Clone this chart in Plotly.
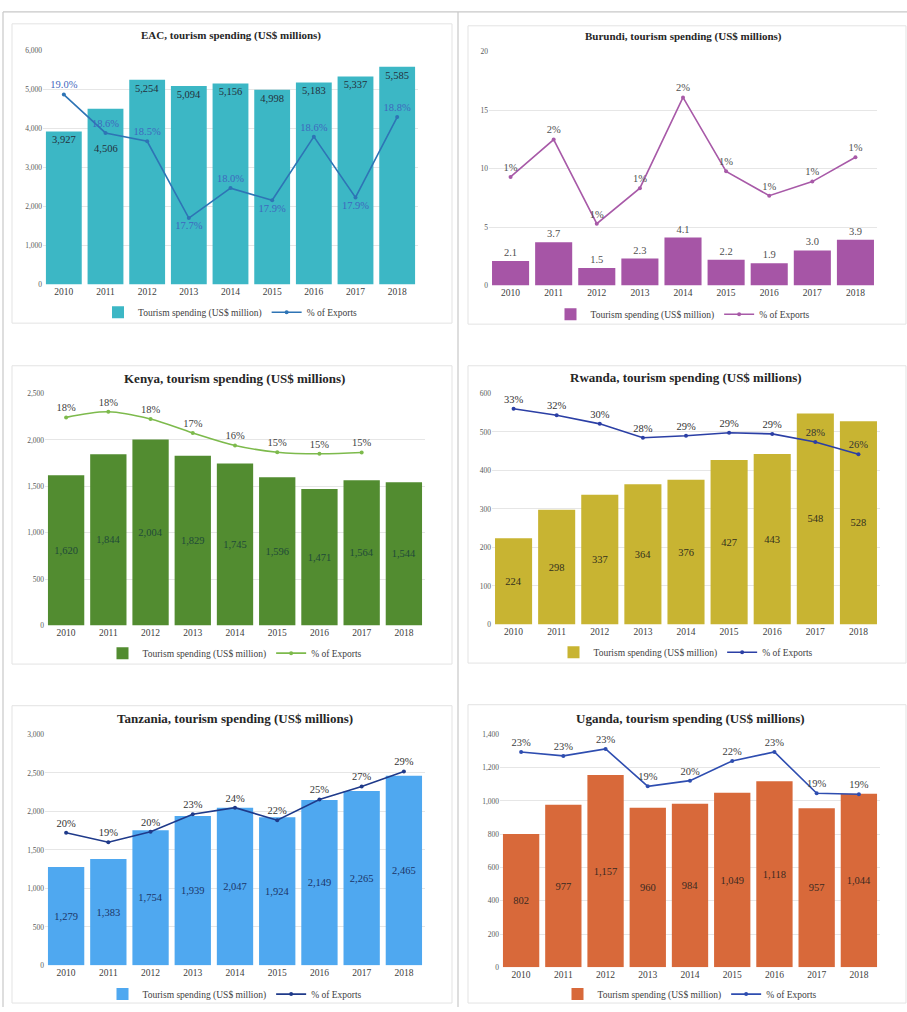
import plotly.graph_objects as go

W, H = 907, 1012
FONT = "Liberation Serif"

years = ["2010", "2011", "2012", "2013", "2014", "2015", "2016", "2017", "2018"]

eac_spend = [3927, 4506, 5254, 5094, 5156, 4998, 5183, 5337, 5585]
eac_pct = [0.1903, 0.1862, 0.1853, 0.1771, 0.1803, 0.1790, 0.1858, 0.1793, 0.1879]

burundi_spend = [2.1, 3.7, 1.5, 2.3, 4.1, 2.2, 1.9, 3.0, 3.9]
burundi_pct = [0.0116, 0.0156, 0.0066, 0.0104, 0.0201, 0.0122, 0.0096, 0.0111, 0.0137]

kenya_spend = [1620, 1844, 2004, 1829, 1745, 1596, 1471, 1564, 1544]
kenya_pct = [0.1794, 0.1843, 0.1780, 0.1660, 0.1552, 0.1494, 0.1480, 0.1491, None]

rwanda_spend = [224, 298, 337, 364, 376, 427, 443, 548, 528]
rwanda_pct = [0.327, 0.317, 0.304, 0.283, 0.286, 0.2905, 0.2888, 0.2765, 0.258]

tanzania_spend = [1279, 1383, 1754, 1939, 2047, 1924, 2149, 2265, 2465]
tanzania_pct = [0.201, 0.1866, 0.2025, 0.229, 0.239, 0.220, 0.2515, 0.271, 0.294]

uganda_spend = [802, 977, 1157, 960, 984, 1049, 1118, 957, 1044]
uganda_pct = [0.2312, 0.2270, 0.2345, 0.1943, 0.2004, 0.2216, 0.2312, 0.1868, 0.1858]

bar_name = "Tourism spending (US$ million)"
line_name = "% of Exports"

# EAC bar labels sit just inside the bar top, except 2011 which is dropped
# lower so it clears the percentage label of the line.
eac_bar_fmt = ["%{y:,}", "", "%{y:,}", "%{y:,}", "%{y:,}", "%{y:,}",
               "%{y:,}", "%{y:,}", "%{y:,}"]
eac_moved_idx = 1
eac_moved_frac = 0.775

# Per-panel layout in pixels: plot box (x0, x1, top, bottom), title/legend rows,
# the surrounding frame, and axis ranges.
panels = [
    dict(title="EAC, tourism spending (US$ millions)", title_size=11,
         spend=eac_spend, pct=eac_pct,
         bar_color="#3CB7C5", line_color="#2E74B5",
         bar_text_color="#24303C", line_text_color="#3F68BE",
         plot=(43, 418, 47, 283), title_y=32, legend_y=311,
         frame=(12, 20, 452, 322),
         y_range=[0, 6000], dtick=1000, y2_range=[0.170, 0.195],
         bar_fmt=eac_bar_fmt, line_fmt="%{y:.1%}",
         bar_pos="inside", bar_anchor="end",
         line_pos=["top center", "top center", "top center", "bottom center",
                   "top center", "bottom center", "top center", "bottom center",
                   "top center"],
         spline=False),
    dict(title="Burundi, tourism spending (US$ millions)", title_size=11,
         spend=burundi_spend, pct=burundi_pct,
         bar_color="#A655A6", line_color="#A85AA8",
         bar_text_color="#505050", line_text_color="#505050",
         plot=(489, 877, 48, 284), title_y=33, legend_y=313,
         frame=(468, 22, 906, 323),
         y_range=[0, 20], dtick=5, y2_range=[0, 0.025],
         bar_fmt="%{y:.1f}", line_fmt="%{y:.0%}",
         bar_pos="outside", bar_anchor="end",
         line_pos="top center", spline=False),
    dict(title="Kenya, tourism spending (US$ millions)", title_size=13,
         spend=kenya_spend, pct=kenya_pct,
         bar_color="#528C30", line_color="#7DBA4C",
         bar_text_color="#1F4A38", line_text_color="#404040",
         plot=(45, 425, 393, 627), title_y=378, legend_y=655,
         frame=(12, 365, 452, 666),
         y_range=[0, 2500], dtick=500, y2_range=[0, 0.20],
         bar_fmt="%{y:,}", line_fmt="%{y:.0%}",
         bar_pos="inside", bar_anchor="middle",
         line_pos="top center", spline=True),
    dict(title="Rwanda, tourism spending (US$ millions)", title_size=13,
         spend=rwanda_spend, pct=rwanda_pct,
         bar_color="#C8B432", line_color="#2B3FA5",
         bar_text_color="#33301E", line_text_color="#333333",
         plot=(492, 880, 393, 626), title_y=377, legend_y=654,
         frame=(468, 365, 906, 665),
         y_range=[0, 600], dtick=100, y2_range=[0, 0.35],
         bar_fmt="%{y:,}", line_fmt="%{y:.0%}",
         bar_pos="inside", bar_anchor="middle",
         line_pos="top center", spline=False),
    dict(title="Tanzania, tourism spending (US$ millions)", title_size=13,
         spend=tanzania_spend, pct=tanzania_pct,
         bar_color="#4FA8F0", line_color="#1F3A8A",
         bar_text_color="#1C3568", line_text_color="#333333",
         plot=(45, 425, 737, 970), title_y=721, legend_y=999,
         frame=(12, 708, 452, 1008),
         y_range=[0, 3000], dtick=500, y2_range=[0, 0.35],
         bar_fmt="%{y:,}", line_fmt="%{y:.0%}",
         bar_pos="inside", bar_anchor="middle",
         line_pos="top center", spline=False),
    dict(title="Uganda, tourism spending (US$ millions)", title_size=13,
         spend=uganda_spend, pct=uganda_pct,
         bar_color="#D8693A", line_color="#2E4DB0",
         bar_text_color="#3A2A22", line_text_color="#404040",
         plot=(500, 880, 737, 972), title_y=721, legend_y=999,
         frame=(468, 707, 906, 1008),
         y_range=[0, 1400], dtick=200, y2_range=[0, 0.25],
         bar_fmt="%{y:,}", line_fmt="%{y:.0%}",
         bar_pos="inside", bar_anchor="middle",
         line_pos="top center", spline=False),
]


def px_x(v):
    return v / W


def px_y(v):
    return 1 - v / H


fig = go.Figure()
layout = dict(
    width=W, height=H,
    margin=dict(l=0, r=0, t=0, b=0),
    paper_bgcolor="white", plot_bgcolor="white",
    font=dict(family=FONT, color="#404040"),
    bargap=0.14,
    showlegend=True,
)
annotations = []
shapes = []

for i, p in enumerate(panels, start=1):
    xa = f"x{i}" if i > 1 else "x"
    ya = f"y{i}" if i > 1 else "y"
    y2n = i + 6
    ya2 = f"y{y2n}"
    leg = f"legend{i}" if i > 1 else "legend"
    x0, x1, top, bottom = p["plot"]

    fig.add_trace(go.Bar(
        x=years, y=p["spend"], name=bar_name,
        marker=dict(color=p["bar_color"], line=dict(width=0)),
        texttemplate=p["bar_fmt"], textposition=p["bar_pos"],
        insidetextanchor=p["bar_anchor"], constraintext="none",
        textfont=dict(family=FONT, size=10.5, color=p["bar_text_color"]),
        outsidetextfont=dict(family=FONT, size=10.5, color=p["bar_text_color"]),
        cliponaxis=False,
        xaxis=xa, yaxis=ya, legend=leg,
    ))
    fig.add_trace(go.Scatter(
        x=years, y=p["pct"], name=line_name,
        mode="lines+markers+text",
        line=dict(color=p["line_color"], width=1.6,
                  shape="spline" if p["spline"] else "linear"),
        marker=dict(color=p["line_color"], size=4),
        texttemplate=p["line_fmt"], textposition=p["line_pos"],
        textfont=dict(family=FONT, size=10.5, color=p["line_text_color"]),
        cliponaxis=False, connectgaps=False,
        xaxis=xa, yaxis=ya2, legend=leg,
    ))

    xkey = "xaxis" if i == 1 else f"xaxis{i}"
    ykey = "yaxis" if i == 1 else f"yaxis{i}"
    layout[xkey] = dict(
        domain=[px_x(x0), px_x(x1)], anchor=ya, type="category",
        categoryorder="array", categoryarray=years,
        range=[-0.5, len(years) - 0.5],
        showgrid=False, zeroline=False, showline=False, ticks="",
        tickfont=dict(family=FONT, size=9.5, color="#404040"),
        fixedrange=True,
    )
    layout[ykey] = dict(
        domain=[px_y(bottom), px_y(top)], anchor=xa,
        range=p["y_range"], dtick=p["dtick"], tickformat=",d",
        separatethousands=True,
        showgrid=True, gridcolor="#E6E6E6", gridwidth=1,
        zeroline=False, showline=False, ticks="",
        tickfont=dict(family=FONT, size=7.5, color="#595959"),
        fixedrange=True,
    )
    layout[f"yaxis{y2n}"] = dict(
        overlaying=ya, anchor=xa, side="right",
        range=p["y2_range"], visible=False, showgrid=False,
        fixedrange=True,
    )
    layout[leg] = dict(
        orientation="h", x=px_x((x0 + x1) / 2), xanchor="center",
        y=px_y(p["legend_y"]), yanchor="middle",
        font=dict(family=FONT, size=9.5, color="#404040"),
        bgcolor="rgba(0,0,0,0)", itemwidth=30, tracegroupgap=0,
        itemclick=False, itemdoubleclick=False,
    )

    annotations.append(dict(
        text=f"<b>{p['title']}</b>", xref="paper", yref="paper",
        x=px_x((x0 + x1) / 2), y=px_y(p["title_y"]),
        xanchor="center", yanchor="middle", showarrow=False,
        font=dict(family=FONT, size=p["title_size"], color="#262626"),
    ))

    fx0, fy0, fx1, fy1 = p["frame"]
    shapes.append(dict(
        type="rect", xref="paper", yref="paper",
        x0=px_x(fx0), x1=px_x(fx1), y0=px_y(fy1), y1=px_y(fy0),
        line=dict(color="#E3E3E3", width=1), fillcolor="rgba(0,0,0,0)",
        layer="below",
    ))

# The EAC 2011 value label, placed lower inside its bar
# (category axes take the category index as the annotation position)
annotations.append(dict(
    text=f"{eac_spend[eac_moved_idx]:,}", xref="x", yref="y",
    x=eac_moved_idx, y=eac_spend[eac_moved_idx] * eac_moved_frac,
    xanchor="center", yanchor="middle", showarrow=False,
    font=dict(family=FONT, size=10.5, color=panels[0]["bar_text_color"]),
))

# Page rules framing the two columns
for seg in [((3, 8), (907, 8)), ((3, 8), (3, 1012)), ((458, 8), (458, 1012))]:
    (ax, ay), (bx, by) = seg
    shapes.append(dict(
        type="line", xref="paper", yref="paper",
        x0=px_x(ax), y0=px_y(ay), x1=px_x(bx), y1=px_y(by),
        line=dict(color="#C8C8C8", width=1.2), layer="below",
    ))

layout["annotations"] = annotations
layout["shapes"] = shapes
fig.update_layout(**layout)

fig.write_html("out.html")
